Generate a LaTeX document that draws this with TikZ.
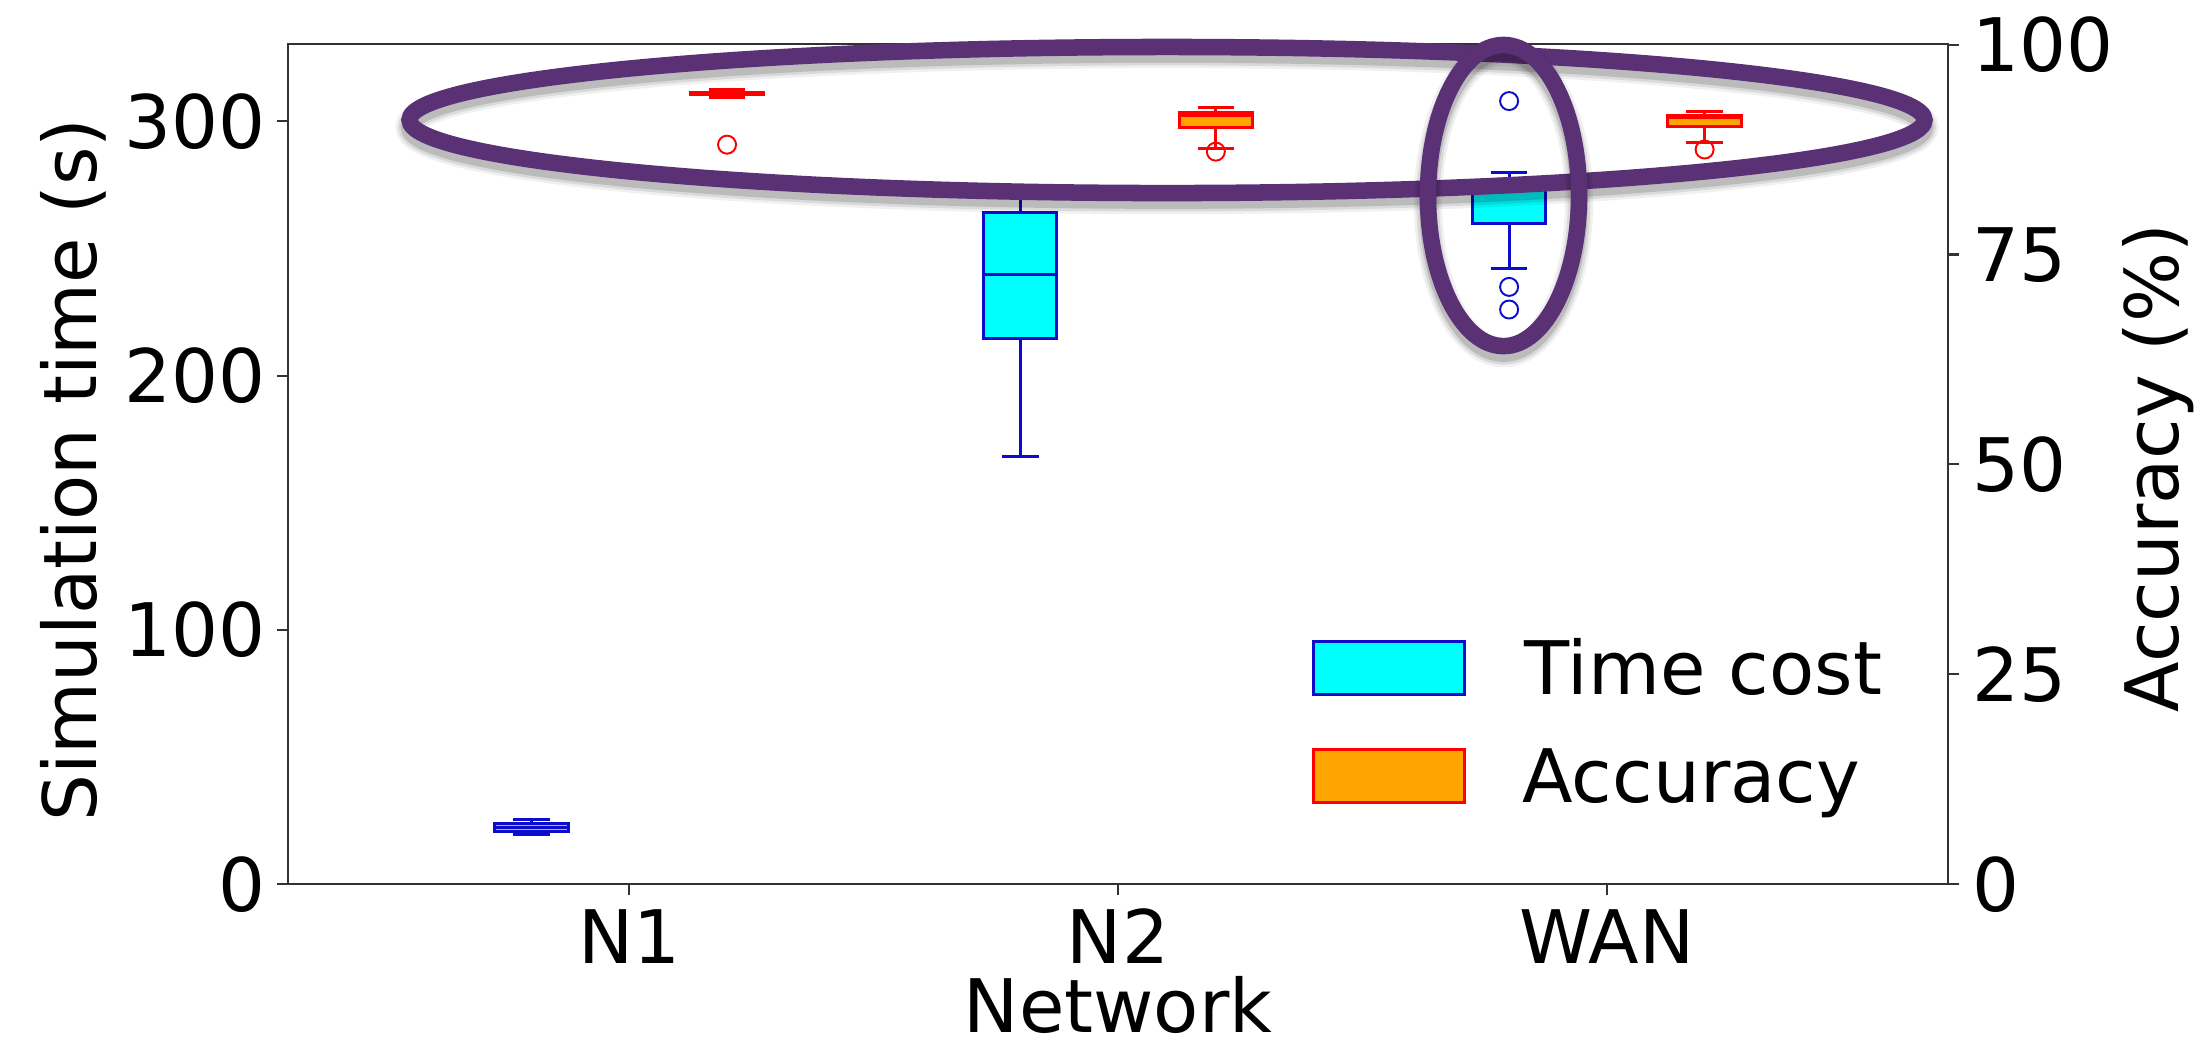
\documentclass[tikz,border=0pt]{standalone}
\usepackage{fontspec}
\setmainfont{DejaVu Sans}

\definecolor{tblue}{RGB}{12,12,205}
\definecolor{tcyan}{RGB}{0,255,255}
\definecolor{ared}{RGB}{255,0,0}
\definecolor{aorange}{RGB}{255,165,0}
\definecolor{ringpurple}{RGB}{91,49,118}
\definecolor{axisgray}{RGB}{50,50,50}

% one box with whiskers: x, low whisker, q1, median, q3, high whisker, line style, fill
\newcommand\boxwhisk[8]{%
  \draw[#7] (#1,#3) -- (#1,#2) (#1-0.0375,#2) -- (#1+0.0375,#2)
            (#1,#5) -- (#1,#6) (#1-0.0375,#6) -- (#1+0.0375,#6);
  \draw[#7, fill=#8] (#1-0.075,#3) rectangle (#1+0.075,#5);
  \draw[#7] (#1-0.075,#4) -- (#1+0.075,#4);
}

\tikzset{
  axisline/.style={draw=axisgray, line width=0.6pt},
  timeline/.style={draw=tblue, line width=0.85pt},
  accline/.style={draw=ared, line width=0.85pt},
  timeflier/.style={draw=tblue, line width=0.55pt},
  accflier/.style={draw=ared, line width=0.55pt},
  lbl/.style={inner sep=0pt, text=black, font=\fontsize{21}{25}\selectfont},
  ring/.style={draw=ringpurple, line width=4.7pt},
}

\begin{document}
\begin{tikzpicture}[x=0.01cm, y=-0.01cm]
  % canvas in pixel units
  \useasboundingbox (0,0) rectangle (2203,1056);
  \fill[white] (0,0) rectangle (2203,1056);

  % ---- time axis (left) ----
  \begin{scope}[shift={(140.5,884)}, x=4.885cm, y=0.0254cm]
    \draw[axisline] (0.302,0) rectangle (3.698,330.3);
    \foreach \v in {0,100,200,300} {
      \draw[axisline] (0.302,\v) -- ++(-0.11cm,0);
      \node[lbl, anchor=base east] (yl\v) at ([xshift=-0.22cm, yshift=-0.27cm]0.302,\v) {\v};
    }
    \foreach \x/\t in {1/N1, 2/N2, 3/WAN} {
      \draw[axisline] (\x,0) -- ++(0,-0.11cm);
      \node[lbl, anchor=base] (xl\t) at ([yshift=-0.79cm]\x,0) {\t};
    }
    \node[lbl, anchor=base] (xlabel) at ([yshift=-1.48cm]2,0) {Network};

    % simulation time per network
    \boxwhisk{0.8}{19.5}{20.7}{22.2}{23.8}{25.4}{timeline}{tcyan}
    \boxwhisk{1.8}{168}{214.6}{239.8}{264}{273}{timeline}{tcyan}
    \boxwhisk{2.8}{242}{259.8}{273.6}{276.8}{280}{timeline}{tcyan}
    \foreach \v in {308,234.9,226}
      \draw[timeflier] (2.8,\v) circle[radius=0.09cm];
  \end{scope}

  % ---- accuracy axis (right) ----
  \begin{scope}[shift={(140.5,884)}, x=4.885cm, y=0.0839cm]
    \foreach \v in {0,25,50,75,100} {
      \draw[axisline] (3.698,\v) -- ++(0.11cm,0);
      \node[lbl, anchor=base west] (al\v) at ([xshift=0.24cm, yshift=-0.27cm]3.698,\v) {\v};
    }
    \boxwhisk{1.2}{93.74}{94.0}{94.15}{94.33}{94.6}{accline}{aorange}
    \boxwhisk{2.2}{87.6}{90.1}{91.54}{91.9}{92.49}{accline}{aorange}
    \boxwhisk{3.2}{88.3}{90.3}{91.3}{91.6}{92.05}{accline}{aorange}
    \draw[accflier] (1.2,88.08) circle[radius=0.09cm];
    \draw[accflier] (2.2,87.25) circle[radius=0.09cm];
    \draw[accflier] (3.2,87.5) circle[radius=0.09cm];
  \end{scope}

  % axis titles
  \node[lbl, rotate=90, anchor=base] (ylabel) at (97,470) {Simulation time (s)};
  \node[lbl, rotate=90, anchor=base] (alabel) at (2178,468) {Accuracy (\%)};

  % legend
  \draw[timeline, fill=tcyan] (1313,641) rectangle (1464,694);
  \draw[accline, fill=aorange] (1313,749) rectangle (1464,802);
  \node[lbl, anchor=base west] (legtime) at (1524,694) {Time cost};
  \node[lbl, anchor=base west] (legacc) at (1522,802) {Accuracy};

  % highlight rings with soft drop shadows
  \foreach \w/\op in {8pt/0.06, 6.5pt/0.09, 5pt/0.14}
    \draw[black, opacity=\op, line width=\w]
      ([yshift=-0.07cm]1167,120) ellipse[x radius=7.57cm, y radius=0.73cm];
  \draw[ring] (1167,120) ellipse[x radius=7.57cm, y radius=0.73cm];

  \foreach \w/\op in {8pt/0.06, 6.5pt/0.09, 5pt/0.14}
    \draw[black, opacity=\op, line width=\w]
      ([yshift=-0.07cm]1503.5,195.5) ellipse[x radius=0.755cm, y radius=1.505cm];
  \draw[ring] (1503.5,195.5) ellipse[x radius=0.755cm, y radius=1.505cm];
\end{tikzpicture}
\end{document}
